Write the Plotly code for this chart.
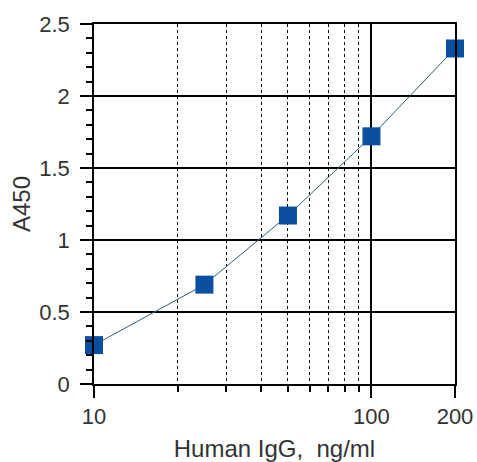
import plotly.graph_objects as go

conc = [10, 25, 50, 100, 200]
a450 = [0.27, 0.69, 1.17, 1.72, 2.33]
x_major = [10, 100, 200]
x_major_text = ["10", "100", "200"]
x_minor = [20, 30, 40, 50, 60, 70, 80, 90]
y_major = [0, 0.5, 1, 1.5, 2, 2.5]
y_major_text = ["0", "0.5", "1", "1.5", "2", "2.5"]

font = dict(family="Liberation Sans, Arial, sans-serif", size=22, color="#333333")
title_font = dict(family="Liberation Sans, Arial, sans-serif", size=24, color="#333333")

fig = go.Figure()
fig.add_trace(go.Scatter(
    x=conc, y=a450, mode="lines+markers",
    line=dict(color="#2f5f80", width=1),
    marker=dict(symbol="square", size=18, color="#0a4f9f"),
    cliponaxis=False,
))

fig.update_layout(
    width=477, height=462,
    margin=dict(l=94, r=22, t=24, b=78),
    paper_bgcolor="white", plot_bgcolor="white",
    showlegend=False, font=font,
    xaxis=dict(
        type="log", range=[1, 2.30103], automargin=False,
        tickmode="array", tickvals=x_major, ticktext=x_major_text,
        ticks="outside", ticklen=12, tickwidth=1.5, tickcolor="black",
        showgrid=True, gridcolor="black", gridwidth=1.5,
        showline=True, linecolor="black", linewidth=1.5, mirror=True,
        zeroline=False,
        minor=dict(tickvals=x_minor, ticks="outside", ticklen=6, tickwidth=1.5,
                   tickcolor="black", showgrid=True, gridcolor="black",
                   gridwidth=1, griddash="dot"),
        title=dict(text="Human IgG,  ng/ml", font=title_font, standoff=12),
        tickfont=font,
    ),
    yaxis=dict(
        range=[0, 2.5], automargin=False,
        tickmode="array", tickvals=y_major, ticktext=y_major_text,
        ticks="outside", ticklen=12, tickwidth=1.5, tickcolor="black",
        ticklabelstandoff=6,
        showgrid=True, gridcolor="black", gridwidth=1.5,
        showline=True, linecolor="black", linewidth=1.5, mirror=True,
        zeroline=False,
        minor=dict(dtick=0.1, ticks="outside", ticklen=6, tickwidth=1.5,
                   tickcolor="black", showgrid=False),
        title=dict(text="A450", font=title_font, standoff=2),
        tickfont=font,
    ),
)

fig.write_html(
    "out.html",
    config={"displayModeBar": False},
    post_script="document.body.style.margin='0';document.body.style.overflow='hidden';",
)
